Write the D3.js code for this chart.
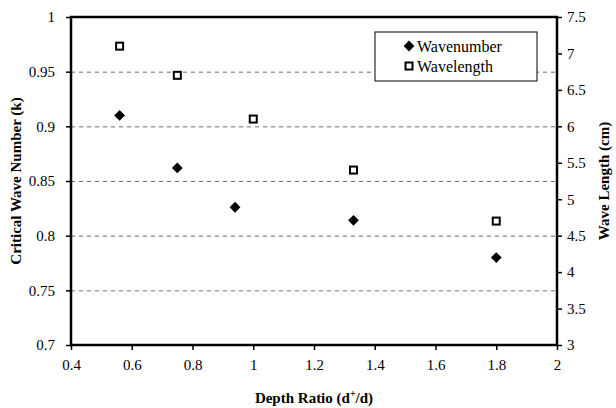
<!DOCTYPE html>
<html>
<head>
<meta charset="utf-8">
<script src="https://cdn.jsdelivr.net/npm/d3@7"></script>
<style>
body{margin:0;background:#fff;}
svg text{font-family:"Liberation Serif","Times New Roman",Times,"DejaVu Serif",serif !important;fill:#000;}
.axis path{display:none;}
.axis line{stroke:#000;stroke-width:1.5px;}
.axis text{font-size:15px;}
.grid line{stroke:#6a6a6a;stroke-dasharray:4,4;stroke-width:1px;}
.grid path{display:none;}
.title{font-size:15px;font-weight:bold;}
</style>
</head>
<body>
<div id="chart"></div>
<script>
// depth ratio (d+/d) for each series
var wavenumber_x = [0.56, 0.75, 0.94, 1.33, 1.8];
var wavenumber_k = [0.910, 0.862, 0.826, 0.814, 0.780];
var wavelength_x = [0.56, 0.75, 1.0, 1.33, 1.8];
var wavelength_cm = [7.1, 6.7, 6.1, 5.4, 4.7];

var x_ticks = [0.4, 0.6, 0.8, 1, 1.2, 1.4, 1.6, 1.8, 2];
var yl_ticks = [0.7, 0.75, 0.8, 0.85, 0.9, 0.95, 1];
var yr_ticks = [3, 3.5, 4, 4.5, 5, 5.5, 6, 6.5, 7, 7.5];
var grid_ticks = [0.75, 0.8, 0.85, 0.9, 0.95];
var legend_names = ["Wavenumber", "Wavelength"];

var svg_width = 616, svg_height = 408;
var m = {top:17, left:71, right:59, bottom:63};
var inner_w = svg_width - m.left - m.right;
var inner_h = svg_height - m.top - m.bottom;

var svg = d3.select("#chart").append("svg")
	.attr("width", svg_width)
	.attr("height", svg_height)
	.attr("font-family", "Liberation Serif");

var g = svg.append("g").attr("transform", "translate(" + m.left + "," + m.top + ")");

var xScale = d3.scaleLinear().domain([0.4, 2]).range([0, inner_w]);
var yLeft = d3.scaleLinear().domain([0.7, 1]).range([inner_h, 0]);
var yRight = d3.scaleLinear().domain([3, 7.5]).range([inner_h, 0]);

// dashed grid
g.append("g").attr("class", "grid")
	.call(d3.axisLeft(yLeft).tickValues(grid_ticks).tickSize(-inner_w).tickFormat(""));

// axes
g.append("g").attr("class", "axis")
	.call(d3.axisLeft(yLeft).tickValues(yl_ticks).tickSize(5).tickPadding(11)
		.tickFormat(function(d){ return String(+d.toFixed(2)); }));

g.append("g").attr("class", "axis")
	.attr("transform", "translate(" + inner_w + ",0)")
	.call(d3.axisRight(yRight).tickValues(yr_ticks).tickSize(5).tickPadding(5)
		.tickFormat(function(d){ return String(d); }));

g.append("g").attr("class", "axis")
	.attr("transform", "translate(0," + inner_h + ")")
	.call(d3.axisBottom(xScale).tickValues(x_ticks).tickSize(5).tickPadding(9)
		.tickFormat(function(d){ return String(+d.toFixed(1)); }));

g.selectAll(".axis").attr("font-family", null);

// plot frame
g.append("rect")
	.attr("width", inner_w).attr("height", inner_h)
	.attr("fill", "none").attr("stroke", "#000").attr("stroke-width", 2.5);

var diamond = d3.symbol().type(d3.symbolDiamond2).size(74);

g.selectAll(".wn").data(wavenumber_x).enter().append("path")
	.attr("class", "wn")
	.attr("d", diamond)
	.attr("transform", function(d, i){ return "translate(" + xScale(d) + "," + yLeft(wavenumber_k[i]) + ")"; })
	.attr("fill", "#000");

g.selectAll(".wl").data(wavelength_x).enter().append("rect")
	.attr("class", "wl")
	.attr("x", function(d){ return xScale(d) - 3.5; })
	.attr("y", function(d, i){ return yRight(wavelength_cm[i]) - 3.5; })
	.attr("width", 7).attr("height", 7)
	.attr("fill", "#fff").attr("stroke", "#000").attr("stroke-width", 2);

// legend
var lg = svg.append("g").attr("transform", "translate(375,32)");
lg.append("rect").attr("width", 162).attr("height", 49)
	.attr("fill", "#fff").attr("stroke", "#000").attr("stroke-width", 1);

var rows = lg.selectAll(".lrow").data(legend_names).enter().append("g")
	.attr("transform", function(d, i){ return "translate(34," + (14 + i * 20) + ")"; });

rows.each(function(d, i){
	var r = d3.select(this);
	if(i == 0){
		r.append("path").attr("d", diamond).attr("fill", "#000");
	}
	else{
		r.append("rect").attr("x", -3.5).attr("y", -3.5).attr("width", 7).attr("height", 7)
			.attr("fill", "#fff").attr("stroke", "#000").attr("stroke-width", 2);
	}
	r.append("text").attr("x", 8).attr("dy", "0.35em").style("font-size", "16px").text(d);
});

// axis titles
var xt = svg.append("text").attr("class", "title")
	.attr("x", m.left + inner_w / 2).attr("y", 403).attr("text-anchor", "middle");
xt.append("tspan").text("Depth Ratio (d");
xt.append("tspan").attr("dy", -6).style("font-size", "10px").text("+");
xt.append("tspan").attr("dy", 6).text("/d)");

svg.append("text").attr("class", "title")
	.attr("transform", "translate(21," + (m.top + inner_h / 2) + ") rotate(-90)")
	.attr("text-anchor", "middle").text("Critical Wave Number (k)");

svg.append("text").attr("class", "title")
	.attr("transform", "translate(609," + (m.top + inner_h / 2) + ") rotate(-90)")
	.attr("text-anchor", "middle").text("Wave Length (cm)");
</script>
</body>
</html>
